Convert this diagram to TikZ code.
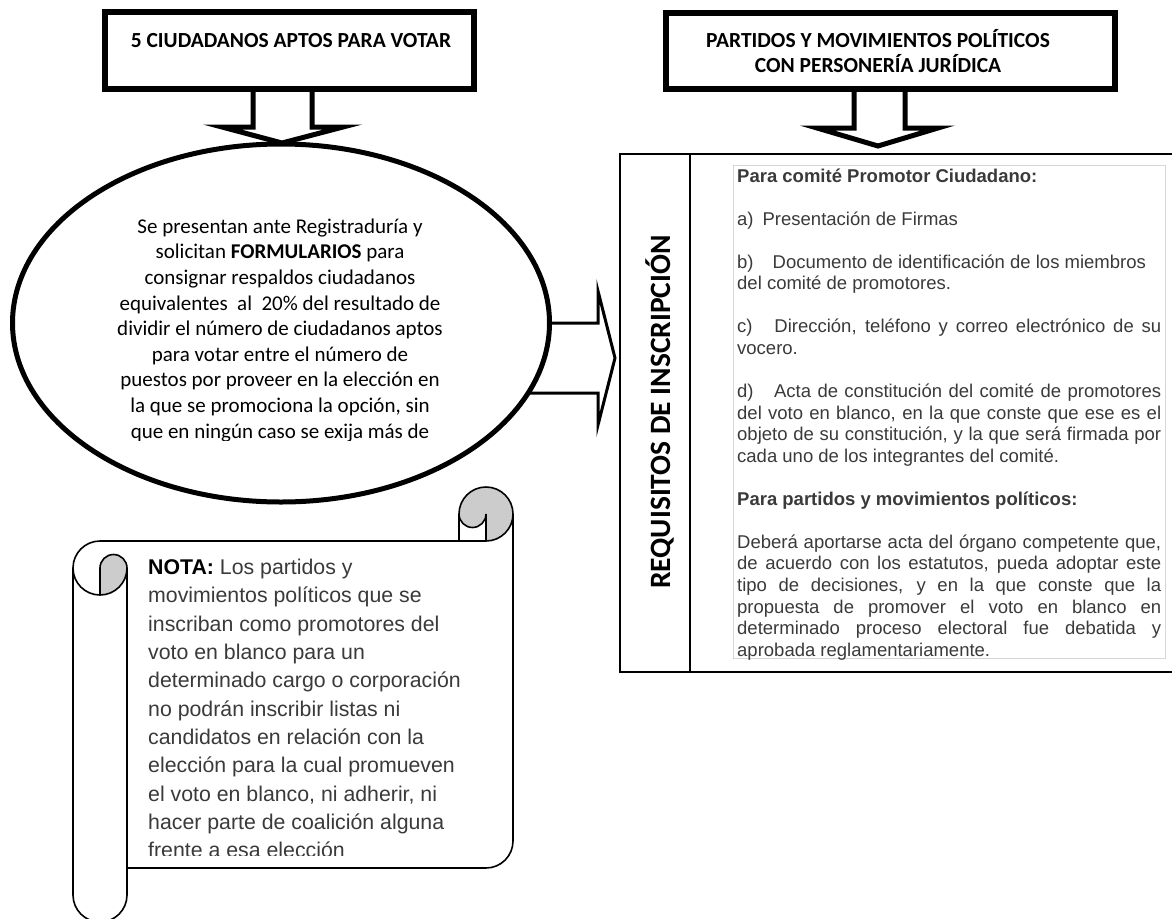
\documentclass[tikz,border=0pt]{standalone}
\usepackage{fontspec}
\setmainfont{Carlito}
\newfontfamily\arialf{Liberation Sans}
\usetikzlibrary{shapes.geometric}
\definecolor{txtgrey}{HTML}{3A3A3A}
\definecolor{rollgrey}{HTML}{CCCCCC}
\definecolor{framegrey}{HTML}{D6D6D6}
\tikzset{
  heavybox/.style={draw, line width=6pt, fill=white, inner sep=0pt, outer sep=0pt},
  blockarr/.style={draw, fill=white, line join=miter, miter limit=12},
  ctxt/.style={anchor=base, inner sep=0pt, font=\fontsize{21}{25.6}\selectfont},
  htxt/.style={anchor=base, inner sep=0pt, font=\bfseries\fontsize{21.5}{25}\selectfont},
  rtxt/.style={anchor=base west, inner sep=0pt, text=txtgrey, font=\arialf\fontsize{18.5}{21.5}\selectfont},
  stxt/.style={anchor=base west, inner sep=0pt, text=txtgrey, font=\arialf\fontsize{21.3}{28.3}\selectfont},
  scrollline/.style={draw=black, line width=1.6pt},
}
\newcommand{\jline}[1]{\makebox[424pt][s]{#1}}
\begin{document}
\begin{tikzpicture}[x=1pt,y=-1pt]
\useasboundingbox (0,0) rectangle (1172,918);
\fill[white] (0,0) rectangle (1172,918);

% ---------- top boxes ----------
\node[heavybox, minimum width=369pt, minimum height=77pt] (ciud) at (289.5,50.5) {};
\node[htxt] (ciudtxt) at (291,47) {5 CIUDADANOS APTOS PARA VOTAR};

\node[heavybox, minimum width=449pt, minimum height=76pt] (part) at (890.5,51) {};
\node[htxt] (parttxt1) at (878,47) {PARTIDOS Y MOVIMIENTOS POLÍTICOS};
\node[htxt] (parttxt2) at (878,72) {CON PERSONERÍA JURÍDICA};

% ---------- right block arrow (behind ellipse) ----------
\draw[blockarr, line width=3pt, miter limit=14] (470,323) -- (598,323) -- (598,291) -- (615,358) -- (598,425) -- (598,393) -- (470,393);

% ---------- ellipse ----------
\node[draw, ellipse, line width=5pt, fill=white, minimum width=537pt, minimum height=358pt, inner sep=0pt, outer sep=0pt] (elli) at (281,323) {};

% ---------- down block arrows ----------
\draw[blockarr, line width=5pt] (253,92) -- (253,127) -- (222,127) -- (282,143) -- (343,127) -- (312,127) -- (312,92);
\draw[blockarr, line width=5pt] (854,92) -- (854,128) -- (817,128) -- (878,146) -- (938,128) -- (905,128) -- (905,92);

% ---------- ellipse text (clipped) ----------
\begin{scope}
\clip (0,0) rectangle (1172,440.5);
\node[ctxt] (e1) at (280,233.2) {Se presentan ante Registraduría y};
\node[ctxt] (e2) at (280,258.8) {solicitan \textbf{FORMULARIOS} para};
\node[ctxt] (e3) at (280,284.4) {consignar respaldos ciudadanos};
\node[ctxt] (e4) at (280,310.0) {equivalentes\ \ al\ \ 20\% del resultado de};
\node[ctxt] (e5) at (280,335.6) {dividir el número de ciudadanos aptos};
\node[ctxt] (e6) at (280,361.2) {para votar entre el número de};
\node[ctxt] (e7) at (280,386.8) {puestos por proveer en la elección en};
\node[ctxt] (e8) at (280,412.4) {la que se promociona la opción, sin};
\node[ctxt] (e9) at (280,438.0) {que en ningún caso se exija más de};
\end{scope}

% ---------- requirements box ----------
\node[draw, line width=2pt, minimum width=560pt, minimum height=518pt, inner sep=0pt, outer sep=0pt] (req) at (900,413) {};
\draw[line width=2pt] (690,154) -- (690,672);
\draw[framegrey, line width=0.9pt] (733,165) rectangle (1165,658);
\node[rotate=90, anchor=base, inner sep=0pt, font=\bfseries\fontsize{29.5}{30}\selectfont] (reqlabel) at (670,412) {REQUISITOS DE INSCRIPCIÓN};

\node[rtxt] (r0) at (737,182.00) {\textbf{Para comité Promotor Ciudadano:}};
\node[rtxt] (r2) at (737,225.10) {a)\hspace{9pt}Presentación de Firmas};
\node[rtxt] (r4) at (737,268.20) {b)\hspace{19pt}Documento de identificación de los miembros};
\node[rtxt] (r5) at (737,289.75) {del comité de promotores.};
\node[rtxt] (r7) at (737,332.85) {\jline{c)\hspace{14pt} Dirección, teléfono y correo electrónico de su}};
\node[rtxt] (r8) at (737,354.40) {vocero.};
\node[rtxt] (r10) at (737,397.50) {\jline{d)\hspace{14pt} Acta de constitución del comité de promotores}};
\node[rtxt] (r11) at (737,419.05) {\jline{del voto en blanco, en la que conste que ese es el}};
\node[rtxt] (r12) at (737,440.60) {\jline{objeto de su constitución, y la que será firmada por}};
\node[rtxt] (r13) at (737,462.15) {cada uno de los integrantes del comité.};
\node[rtxt] (r15) at (737,505.25) {\textbf{Para partidos y movimientos políticos:}};
\node[rtxt] (r17) at (737,548.35) {\jline{Deberá aportarse acta del órgano competente que,}};
\node[rtxt] (r18) at (737,569.90) {\jline{de acuerdo con los estatutos, pueda adoptar este}};
\node[rtxt] (r19) at (737,591.45) {\jline{tipo de decisiones, y en la que conste que la}};
\node[rtxt] (r20) at (737,613.00) {\jline{propuesta de promover el voto en blanco en}};
\node[rtxt] (r21) at (737,634.55) {\jline{determinado proceso electoral fue debatida y}};
\node[rtxt] (r22) at (737,656.10) {aprobada reglamentariamente.};

% ---------- scroll ----------
\fill[white] (513,514) arc[start angle=0, delta angle=90, radius=27]
  -- (486,514) arc[start angle=0, delta angle=180, radius=13.5]
  -- (459,541) -- (100,541) arc[start angle=270, delta angle=-90, radius=27]
  -- (73,895) arc[start angle=180, delta angle=-180, radius=27]
  -- (127,868) -- (486,868) arc[start angle=90, delta angle=-90, radius=27] -- cycle;
\fill[rollgrey] (100,595) arc[start angle=90, delta angle=-90, radius=27]
  arc[start angle=0, delta angle=-180, radius=13.5] -- cycle;
\fill[rollgrey] (486,541) arc[start angle=90, delta angle=-270, radius=27]
  arc[start angle=180, delta angle=-180, radius=13.5] -- cycle;
\draw[scrollline, line join=round] (73,568) arc[start angle=180, delta angle=90, radius=27]
  -- (459,541) -- (459,514) arc[start angle=180, delta angle=180, radius=27]
  -- (513,841) arc[start angle=0, delta angle=90, radius=27]
  -- (127,868) -- (127,895) arc[start angle=0, delta angle=180, radius=27] -- cycle;
\draw[scrollline] (459,541) -- (486,541) arc[start angle=90, delta angle=-90, radius=27];
\draw[scrollline] (486,541) -- (486,514) arc[start angle=0, delta angle=180, radius=13.5];
\draw[scrollline] (100,595) -- (100,568) arc[start angle=180, delta angle=180, radius=13.5]
  arc[start angle=0, delta angle=180, radius=27];
\draw[scrollline] (127,568) -- (127,868);

\begin{scope}
\clip (0,0) rectangle (1172,855.5);
\node[stxt] (s0) at (148,574.50) {\textcolor{black}{\textbf{NOTA:}} Los partidos y};
\node[stxt] (s1) at (148,602.83) {movimientos políticos que se};
\node[stxt] (s2) at (148,631.16) {inscriban como promotores del};
\node[stxt] (s3) at (148,659.49) {voto en blanco para un};
\node[stxt] (s4) at (148,687.82) {determinado cargo o corporación};
\node[stxt] (s5) at (148,716.15) {no podrán inscribir listas ni};
\node[stxt] (s6) at (148,744.48) {candidatos en relación con la};
\node[stxt] (s7) at (148,772.81) {elección para la cual promueven};
\node[stxt] (s8) at (148,801.14) {el voto en blanco, ni adherir, ni};
\node[stxt] (s9) at (148,829.47) {hacer parte de coalición alguna};
\node[stxt] (s10) at (148,857.80) {frente a esa elección};
\end{scope}
\end{tikzpicture}
\end{document}
